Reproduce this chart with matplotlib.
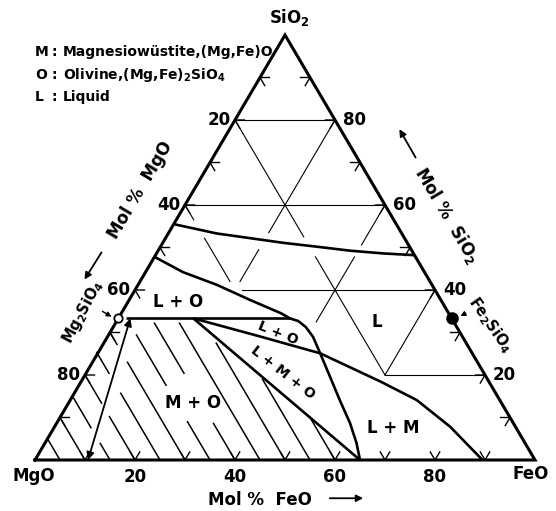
import numpy as np
import matplotlib
matplotlib.use("Agg")
import matplotlib.pyplot as plt

plt.rcParams['font.family'] = ['DejaVu Sans']
plt.rcParams['font.weight'] = 'bold'
plt.rcParams['mathtext.default'] = 'regular'

# Phase boundaries in the MgO-FeO-SiO2 system, as (mol% FeO, mol% SiO2) pairs
liquidus_top_feo = [0.0, 9.7, 16.9, 24.1, 31.2, 38.4, 45.4, 51.8]
liquidus_top_sio2 = [55.5, 53.3, 52.2, 51.1, 50.2, 49.25, 48.6, 48.2]

olivine_liquidus_feo = [0.0, 7.5, 15.8, 24.2, 32.0, 34.3, 36.3, 38.5, 41.1, 44.4, 49.2, 53.9, 58.65, 62.3, 65.0]
olivine_liquidus_sio2 = [47.8, 44.2, 41.2, 37.65, 34.5, 33.33, 32.7, 31.3, 29.0, 25.2, 19.6, 14.1, 8.7, 4.0, 0.0]

olivine_join_feo = [1.5, 34.3]
olivine_join_sio2 = [33.33, 33.33]

mw_liquidus_feo = [15.0, 30.0, 44.5, 60.0, 69.3, 79.1, 89.5]
mw_liquidus_sio2 = [33.33, 29.2, 25.1, 18.4, 14.1, 7.84, 0.0]

lmo_lower_feo = [15.0, 65.0]
lmo_lower_sio2 = [33.33, 0.0]

# composition path between olivine and magnesiowustite
path_feo = [2.4, 10.6]
path_sio2 = [33.33, 0.0]

# M+O field hatching: constant-MgO lines, (mol% MgO, SiO2 top, SiO2 bottom)
hatch_mgo = [95, 90, 85, 85, 80, 80, 75, 75, 70, 70, 65, 65, 60, 60, 55, 50, 45, 40]
hatch_top = [4.6, 9.4, 14.5, 3.9, 19.6, 10.2, 25.3, 15.7, 29.8, 23.0, 29.4, 9.0, 32.2, 8.6, 32.2, 27.5, 19.0, 10.2]
hatch_bot = [0.4, 0.6, 7.6, 0.0, 13.4, 0.0, 20.4, 0.0, 27.2, 0.0, 17.6, 0.0, 20.4, 0.0, 0.0, 0.0, 0.0, 0.0]

# 20 mol% reference grid pieces, (FeO, SiO2) -> (FeO, SiO2)
grid_segments = [
    ((0, 80), (20, 80)),
    ((0, 60), (40, 60)),
    ((21.4, 40), (60, 40)),
    ((60, 20), (80, 20)),
    ((0, 80), (27.5, 52.5)),
    ((32.2, 47.8), (60, 20)),
    ((0, 60), (3.5, 56.5)),
    ((7.8, 52.2), (18, 42)),
    ((20, 80), (20, 53.5)),
    ((20, 49.5), (20, 42)),
    ((40, 60), (40, 50.6)),
    ((40, 47.8), (40, 32.5)),
    ((60, 40), (60, 20)),
]

tick_vals = [10, 20, 30, 40, 50, 60, 70, 80, 90]
bottom_labels = ['20', '40', '60', '80']
bottom_label_vals = [20, 40, 60, 80]
left_labels = ['20', '40', '60', '80']      # mol% MgO
left_label_sio2 = [80, 60, 40, 20]
right_labels = ['80', '60', '40', '20']     # mol% SiO2
right_label_sio2 = [80, 60, 40, 20]


def tern(feo, sio2):
    feo = np.asarray(feo, dtype=float)
    sio2 = np.asarray(sio2, dtype=float)
    return feo + sio2 / 2.0, sio2


fig = plt.figure(figsize=(5.56, 5.11), dpi=100)
ax = fig.add_axes([0, 0, 1, 1])
ax.set_xlim(-7, 104.2)
ax.set_ylim(-12, 108.235)
ax.axis('off')

black = 'black'

# grid
for (f1, s1), (f2, s2) in grid_segments:
    x, y = tern([f1, f2], [s1, s2])
    ax.plot(x, y, color=black, lw=0.8)

# hatching inside the M + O field
for m, st, sb in zip(hatch_mgo, hatch_top, hatch_bot):
    f_top = 100 - m - st
    f_bot = 100 - m - sb
    x, y = tern([f_top, f_bot], [st, sb])
    ax.plot(x, y, color=black, lw=1.1)

# triangle outline
x, y = tern([0, 100, 0, 0], [0, 0, 100, 0])
ax.plot(x, y, color=black, lw=2.2, solid_joinstyle='miter')

# chevron ticks along the edges
d = 1.9
for v in tick_vals:
    bx, by = tern(v, 0)
    ax.plot([bx - d / 2, bx, bx + d / 2], [by + d, by, by + d], color=black, lw=1.0)
    lx, ly = tern(0, v)
    ax.plot([lx + d, lx, lx + d / 2], [ly, ly, ly - d], color=black, lw=1.0)
    rx, ry = tern(100 - v, v)
    ax.plot([rx - d, rx, rx - d / 2], [ry, ry, ry - d], color=black, lw=1.0)

# phase boundaries
for fe, si in [(liquidus_top_feo, liquidus_top_sio2),
               (olivine_liquidus_feo, olivine_liquidus_sio2),
               (olivine_join_feo, olivine_join_sio2),
               (mw_liquidus_feo, mw_liquidus_sio2),
               (lmo_lower_feo, lmo_lower_sio2)]:
    x, y = tern(fe, si)
    ax.plot(x, y, color=black, lw=1.9, solid_capstyle='butt')

# double headed arrow for the composition path
x, y = tern(path_feo, path_sio2)
ax.annotate('', xy=(x[0], y[0]), xytext=(x[1], y[1]),
            arrowprops=dict(arrowstyle='<|-|>', color=black, lw=1.3,
                            mutation_scale=11, shrinkA=0, shrinkB=0))

# olivine end members
mx, my = tern(0, 33.33)
ax.plot(mx, my, 'o', ms=6, mfc='white', mec=black, mew=1.3, zorder=5)
fx, fy = tern(66.67, 33.33)
ax.plot(fx, fy, 'o', ms=8, mfc=black, mec=black, zorder=5)

fs = 12
# corner labels
ax.text(50.8, 104.2, 'SiO$_2$', ha='center', va='center', fontsize=fs)
ax.text(-0.2, -3.8, 'MgO', ha='center', va='center', fontsize=fs)
ax.text(99.2, -3.4, 'FeO', ha='center', va='center', fontsize=fs)

# axis numbers
for lab, v in zip(bottom_labels, bottom_label_vals):
    x, y = tern(v, 0)
    ax.text(x, y - 4.0, lab, ha='center', va='center', fontsize=fs)
for lab, s in zip(left_labels, left_label_sio2):
    x, y = tern(0, s)
    ax.text(x - 3.2, y, lab, ha='center', va='center', fontsize=fs)
for lab, s in zip(right_labels, right_label_sio2):
    x, y = tern(100 - s, s)
    ax.text(x + 3.9, y, lab, ha='center', va='center', fontsize=fs)

# axis titles with arrows
ax.text(45, -9.3, 'Mol %  FeO', ha='center', va='center', fontsize=fs)
ax.annotate('', xy=(66.2, -9.0), xytext=(58.4, -9.0),
            arrowprops=dict(arrowstyle='-|>', color=black, lw=1.3, mutation_scale=10))
ax.text(21.0, 63.5, 'Mol %  MgO', ha='center', va='center', fontsize=fs, rotation=59.3)
ax.annotate('', xy=(9.6, 41.9), xytext=(13.6, 49.4),
            arrowprops=dict(arrowstyle='-|>', color=black, lw=1.3, mutation_scale=10))
ax.text(82.4, 57.6, 'Mol %  SiO$_2$', ha='center', va='center', fontsize=fs, rotation=-59.3)
ax.annotate('', xy=(72.6, 78.4), xytext=(76.4, 70.6),
            arrowprops=dict(arrowstyle='-|>', color=black, lw=1.3, mutation_scale=10))

# field labels
ax.text(28.6, 37.2, 'L + O', ha='center', va='center', fontsize=fs)
ax.text(31.6, 13.4, 'M + O', ha='center', va='center', fontsize=fs)
ax.text(68.4, 32.5, 'L', ha='center', va='center', fontsize=fs)
ax.text(71.6, 7.5, 'L + M', ha='center', va='center', fontsize=fs)
ax.text(48.6, 29.9, 'L + O', ha='center', va='center', fontsize=10, rotation=-22)
ax.text(49.6, 20.5, 'L + M + O', ha='center', va='center', fontsize=10, rotation=-38)

# end member labels
ax.text(9.6, 34.8, 'Mg$_2$SiO$_4$', ha='center', va='center', fontsize=10.5, rotation=62)
ax.annotate('', xy=(15.8, 33.4), xytext=(13.0, 35.3),
            arrowprops=dict(arrowstyle='-|>', color=black, lw=1.0, mutation_scale=7))
ax.text(91.0, 31.8, 'Fe$_2$SiO$_4$', ha='center', va='center', fontsize=10.5, rotation=-55)
ax.annotate('', xy=(84.6, 33.6), xytext=(86.6, 34.8),
            arrowprops=dict(arrowstyle='-|>', color=black, lw=1.0, mutation_scale=7))

# phase key
key_sym = ['M', 'O', 'L']
key_txt = ['Magnesiowüstite,(Mg,Fe)O', 'Olivine,(Mg,Fe)$_2$SiO$_4$', 'Liquid']
key_y = [96.0, 90.6, 85.4]
for sym, txt, yy in zip(key_sym, key_txt, key_y):
    ax.text(0.0, yy, sym, ha='left', va='center', fontsize=10)
    ax.text(3.9, yy, ':', ha='center', va='center', fontsize=10)
    ax.text(5.6, yy, txt, ha='left', va='center', fontsize=10)

fig.savefig('out.png', dpi=100)
